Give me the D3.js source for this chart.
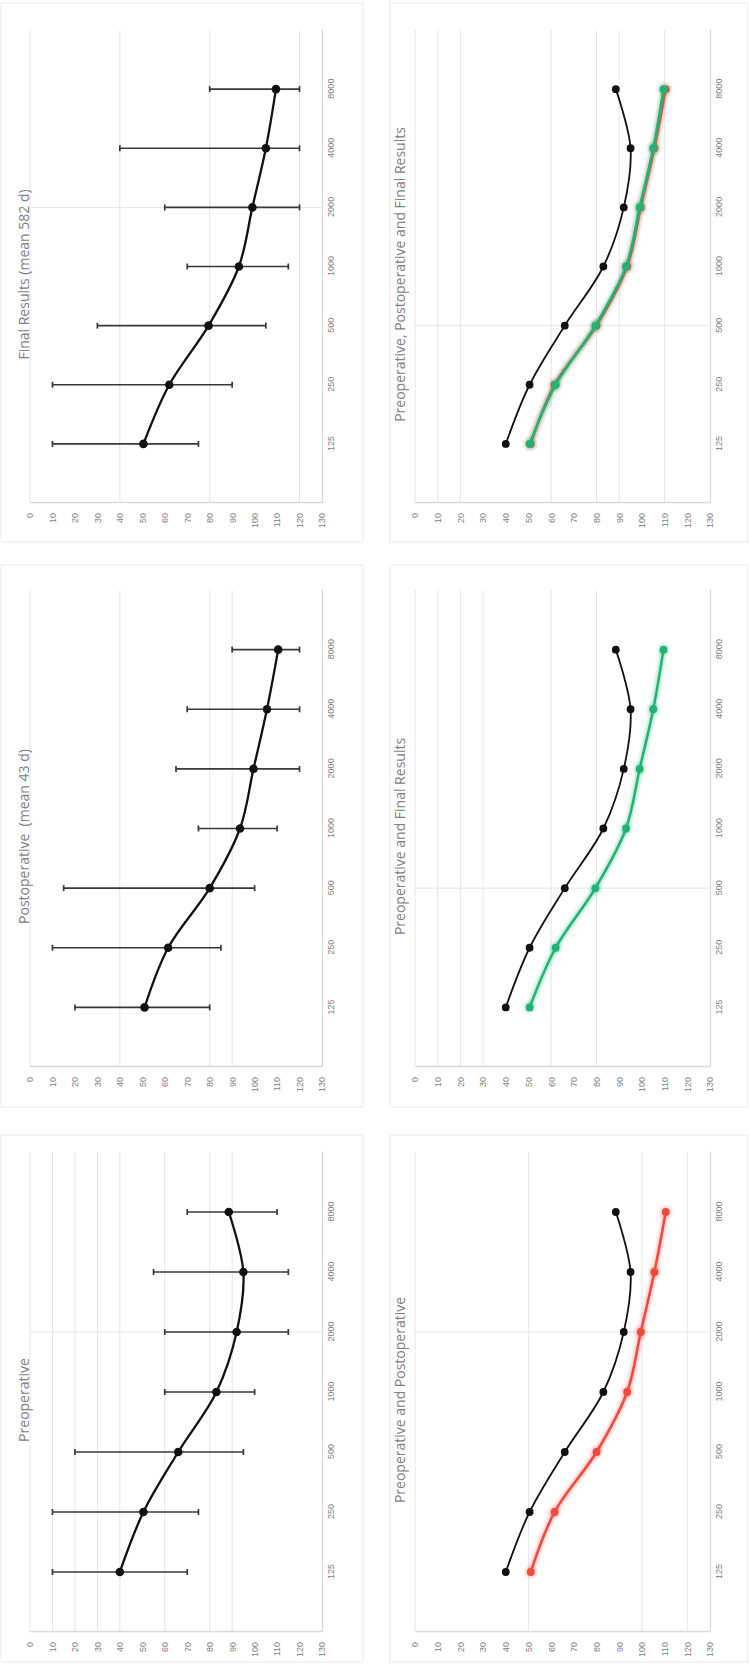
<!DOCTYPE html>
<html>
<head>
<meta charset="utf-8">
<script src="https://cdn.jsdelivr.net/npm/d3@7/dist/d3.min.js"></script>
<style>
  html, body { margin: 0; padding: 0; background: #fff; }
  svg { display: block; font-family: "Open Sans", "Noto Sans", sans-serif; }
</style>
</head>
<body>
<svg id="fig" width="749" height="1664"></svg>
<script>
// audiogram values (dB HL) per frequency
var freqs = [125, 250, 500, 1000, 2000, 4000, 8000];
var dbTicks = d3.range(0, 131, 10);

var preop     = [40, 50.5, 66, 83, 92, 95, 88.5];
var preopLow  = [10, 10, 20, 60, 60, 55, 70];
var preopHigh = [70, 75, 95, 100, 115, 115, 110];

var postop     = [51, 61.5, 80, 93.5, 99.5, 105.5, 110.5];
var postopLow  = [20, 10, 15, 75, 65, 70, 90];
var postopHigh = [80, 85, 100, 110, 120, 120, 120];

var final     = [50.5, 62, 79.5, 93, 99, 105, 109.5];
var finalLow  = [10, 10, 30, 70, 60, 40, 80];
var finalHigh = [75, 90, 105, 115, 120, 120, 120];

var titles = [
  'Preoperative',
  'Postoperative \u00a0(mean 43 d)',
  'Final Results (mean 582 d)',
  'Preoperative and Postoperative',
  'Preoperative and Final Results',
  'Preoperative, Postoperative and Final Results'
];

var BLACK = '#111', RED = '#f04a3e', GREEN = '#22b374';

// The figure is a landscape page turned a quarter to the left.
// Everything is laid out in the landscape frame (1664 x 749):
// original columns run left-to-right = image bottom-to-top.
var slots = {
  first:  { x0: 32,   x1: 512,  card: [2, 529] },
  second: { x0: 597,  x1: 1074, card: [557, 1099] },
  third:  { x0: 1161, x1: 1634, card: [1122, 1661] }
};
var rows = {
  upper: { y0: 30,  y1: 322, titleY: 29,  card: [1, 363] },
  lower: { y0: 415, y1: 710, titleY: 405, card: [390, 748] }
};

var panels = [
  { slot: 'first', row: 'upper', title: titles[0], series: [{ v: preop, c: BLACK }],
    err: [preopLow, preopHigh], dbGrid: [10, 20, 30, 40, 60, 80, 90], fGrid: [2000] },
  { slot: 'second', row: 'upper', title: titles[1], series: [{ v: postop, c: BLACK }],
    err: [postopLow, postopHigh], dbGrid: [40, 80, 90], fGrid: [] },
  { slot: 'third', row: 'upper', title: titles[2], series: [{ v: final, c: BLACK }],
    err: [finalLow, finalHigh], dbGrid: [40, 80, 120], fGrid: [2000] },
  { slot: 'first', row: 'lower', title: titles[3],
    series: [{ v: preop, c: BLACK }, { v: postop, c: RED }],
    dbGrid: [50, 100, 120], fGrid: [2000] },
  { slot: 'second', row: 'lower', title: titles[4],
    series: [{ v: preop, c: BLACK }, { v: final, c: GREEN }],
    dbGrid: [10, 20, 30, 60, 80], fGrid: [500] },
  { slot: 'third', row: 'lower', title: titles[5],
    series: [{ v: preop, c: BLACK }, { v: postop, c: RED }, { v: final, c: GREEN }],
    dbGrid: [10, 20, 60, 80, 90, 110], fGrid: [500] }
];

var svg = d3.select('#fig');

svg.append('defs').append('filter').attr('id', 'glow')
    .attr('x', '-10%').attr('y', '-10%').attr('width', '120%').attr('height', '120%')
  .append('feGaussianBlur').attr('stdDeviation', 1.8);

var page = svg.append('g')
    .attr('transform', 'translate(0,1664) rotate(-90)');

panels.forEach(function (p) {
  var s = slots[p.slot], r = rows[p.row];

  var x = d3.scaleLog().base(2)
      .domain([62.5, 16000])
      .range([s.x0, s.x1]);
  var y = d3.scaleLinear()
      .domain([0, 130])
      .range([r.y0, r.y1]);

  var g = page.append('g').attr('class', 'panel');

  // chart area border
  g.append('rect')
      .attr('x', s.card[0]).attr('y', r.card[0])
      .attr('width', s.card[1] - s.card[0])
      .attr('height', r.card[1] - r.card[0])
      .attr('fill', 'none')
      .attr('stroke', '#ebebeb');

  // gridlines
  g.selectAll('.hgrid')
      .data([0].concat(p.dbGrid))
    .enter().append('line')
      .attr('x1', s.x0).attr('x2', s.x1)
      .attr('y1', function (d) { return y(d); })
      .attr('y2', function (d) { return y(d); })
      .attr('stroke', '#e6e6e6');

  g.selectAll('.vgrid')
      .data(p.fGrid)
    .enter().append('line')
      .attr('x1', function (d) { return x(d); })
      .attr('x2', function (d) { return x(d); })
      .attr('y1', r.y0).attr('y2', r.y1)
      .attr('stroke', '#e6e6e6');

  // axes
  var yAxis = g.append('g')
      .attr('transform', 'translate(' + s.x0 + ',0)')
      .call(d3.axisLeft(y).tickValues(dbTicks).tickSize(0).tickPadding(10));
  var xAxis = g.append('g')
      .attr('transform', 'translate(0,' + r.y1 + ')')
      .call(d3.axisBottom(x).tickValues(freqs).tickFormat(d3.format('d'))
        .tickSize(0).tickPadding(6));

  [yAxis, xAxis].forEach(function (a) {
    a.select('.domain').attr('stroke', '#d9d9d9').attr('stroke-width', 1.3);
    a.selectAll('text')
        .attr('fill', '#808080')
        .style('font-size', '9px')
        .style('font-family', '"Liberation Sans Narrow", "Liberation Sans", sans-serif');
  });

  // title
  g.append('text')
      .attr('x', (s.x0 + s.x1) / 2 - 8)
      .attr('y', r.titleY)
      .attr('text-anchor', 'middle')
      .attr('fill', '#808080')
      .style('font-size', '14px')
      .text(p.title);

  // error bars
  if (p.err) {
    var eb = g.append('g').attr('stroke', '#383838').attr('stroke-width', 1.7);
    freqs.forEach(function (f, i) {
      var lo = y(p.err[0][i]), hi = y(p.err[1][i]), fx = x(f);
      eb.append('line').attr('x1', fx).attr('x2', fx).attr('y1', lo).attr('y2', hi);
      eb.append('line').attr('x1', fx - 3).attr('x2', fx + 3).attr('y1', lo).attr('y2', lo);
      eb.append('line').attr('x1', fx - 3).attr('x2', fx + 3).attr('y1', hi).attr('y2', hi);
    });
  }

  var line = d3.line()
      .x(function (d, i) { return x(freqs[i]); })
      .y(function (d) { return y(d); })
      .curve(d3.curveCatmullRom.alpha(0.5));

  var single = p.series.length === 1;

  p.series.forEach(function (ser) {
    var sg = g.append('g');
    if (ser.c !== BLACK) {
      // soft halo around the coloured series
      sg.append('path')
          .attr('d', line(ser.v))
          .attr('fill', 'none')
          .attr('stroke', ser.c)
          .attr('stroke-opacity', 0.3)
          .attr('stroke-width', 6)
          .attr('filter', 'url(#glow)');
      sg.selectAll('.halo')
          .data(ser.v)
        .enter().append('circle')
          .attr('cx', function (d, i) { return x(freqs[i]); })
          .attr('cy', function (d) { return y(d); })
          .attr('r', 6)
          .attr('fill', ser.c)
          .attr('fill-opacity', 0.25)
          .attr('filter', 'url(#glow)');
    }
    sg.append('path')
        .attr('d', line(ser.v))
        .attr('fill', 'none')
        .attr('stroke', ser.c)
        .attr('stroke-width', single ? 2.3 : (ser.c === BLACK ? 1.8 : 2.5));
    sg.selectAll('.dot')
        .data(ser.v)
      .enter().append('circle')
        .attr('cx', function (d, i) { return x(freqs[i]); })
        .attr('cy', function (d) { return y(d); })
        .attr('r', single ? 4.3 : 3.9)
        .attr('fill', ser.c);
  });
});
</script>
</body>
</html>
